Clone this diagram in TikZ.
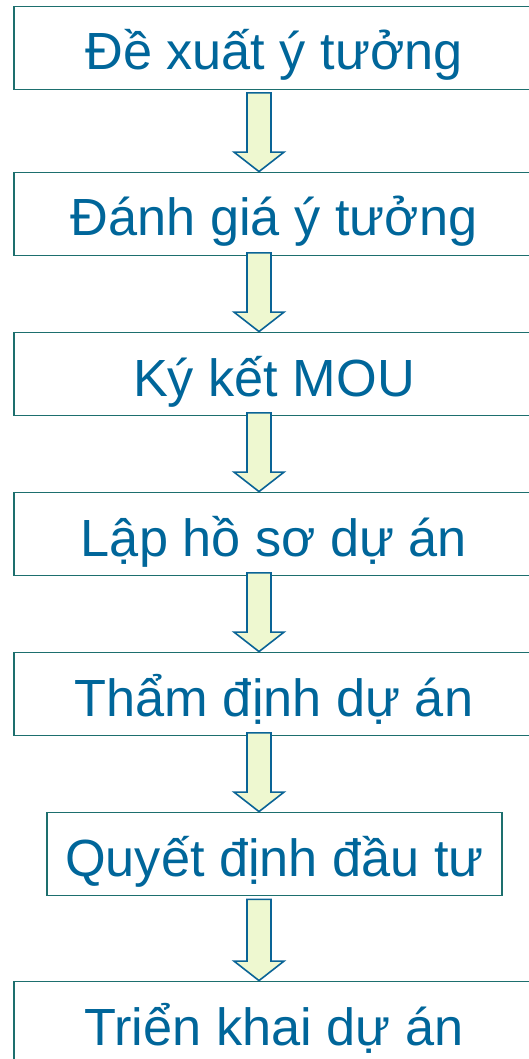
\documentclass[tikz,border=0pt]{standalone}
\usepackage{fontspec}
\setmainfont{Liberation Sans}
\usetikzlibrary{calc}
\definecolor{txtblue}{HTML}{00669A}
\definecolor{boxline}{HTML}{1D6F6E}
\definecolor{arrline}{HTML}{0A6496}
\definecolor{arrfill}{HTML}{EEF8D0}
\tikzset{
  stepbox/.style={draw=boxline, line width=1.8pt, fill=white, inner sep=0pt,
    minimum height=83pt, text=txtblue, text height=44pt, text depth=0pt,
    font=\fontsize{52.3}{60}\selectfont},
  widebox/.style={stepbox, minimum width=520pt},
  blockarr/.style={draw=arrline, fill=arrfill, line width=1.6pt, line join=miter},
}
\newcommand{\blkarrow}[3]{%
  \path[blockarr] let \p1=(#1.south), \p2=(#2.north) in
    (259pt-12pt,\y1+#3) -- (259pt+12pt,\y1+#3) -- (259pt+12pt,\y2+19.5pt)
    -- (259pt+25pt,\y2+19.5pt) -- (259pt,\y2) -- (259pt-25pt,\y2+19.5pt)
    -- (259pt-12pt,\y2+19.5pt) -- cycle;}
\begin{document}
\begin{tikzpicture}[x=1pt,y=1pt]
\useasboundingbox (0,0) rectangle (529,-1059);
\node[widebox] (b1) at (274,-48) {Đề xuất ý tưởng};
\node[widebox] (b2) at (274,-214) {Đánh giá ý tưởng};
\node[widebox] (b3) at (274,-374) {Ký kết MOU};
\node[widebox] (b4) at (274,-534) {Lập hồ sơ dự án};
\node[widebox] (b5) at (274,-694) {Thẩm định dự án};
\node[stepbox, minimum width=455pt] (b6) at (274.5,-854) {Quyết định đầu tư};
\node[widebox] (b7) at (274,-1023) {Triển khai dự án};
\blkarrow{b1}{b2}{-2.5pt}
\blkarrow{b2}{b3}{3.5pt}
\blkarrow{b3}{b4}{3.5pt}
\blkarrow{b4}{b5}{3.5pt}
\blkarrow{b5}{b6}{3.5pt}
\blkarrow{b6}{b7}{-3pt}
\end{tikzpicture}
\end{document}
